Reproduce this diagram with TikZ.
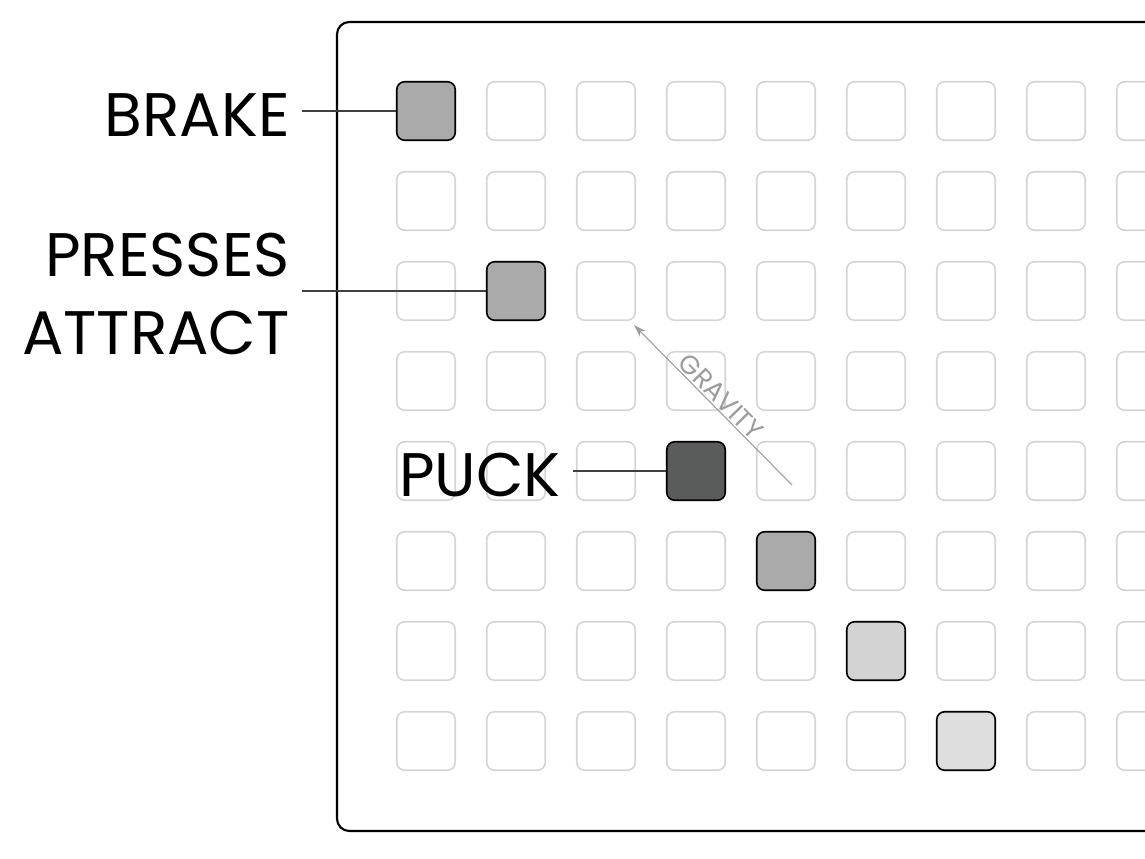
\documentclass[tikz,border=0pt]{standalone}
\usepackage{fontspec}
\setmainfont{Poppins}
\usepackage{tikz}
\usetikzlibrary{arrows.meta,positioning}
\definecolor{PadEdge}{HTML}{D4D4D4}
\definecolor{MidGray}{HTML}{A9AAA9}
\definecolor{PuckGray}{HTML}{5A5C5B}
\definecolor{TrailGray}{HTML}{D3D3D3}
\definecolor{FadeGray}{HTML}{DEDEDE}
\definecolor{GravGray}{HTML}{9C9C9C}
\tikzset{
    pad/.style={draw=PadEdge, line width=0.9pt, rounded corners=4.5pt, minimum size=1.17cm, inner sep=0pt},
    lit/.style args={#1}{pad, draw=black, fill=#1},
    callout/.style={font=\fontsize{35}{44}\selectfont, align=right, anchor=east, inner sep=0pt, outer xsep=7pt},
    lead/.style={draw=black!75, line width=0.7pt}
}

\begin{document}
\begin{tikzpicture}[x=0.02cm, y=-0.02cm, >={Stealth[length=2.5mm, width=1.6mm]}]
\useasboundingbox (0,0) rectangle (1145,858);
\begin{scope}
\clip (0,0) rectangle (1145,858);
\draw[line width=1.2pt, rounded corners=7pt] (337,22) rectangle (1300,831);
% grid of pads
\foreach \c in {0,...,8}
  \foreach \r in {0,...,7}
    \node[pad] (p-\c-\r) at (426+90*\c, 111+90*\r) {};
\end{scope}

% lit pads
\node[lit=MidGray] (brake) at (p-0-0) {};
\node[lit=MidGray] (presses) at (p-1-2) {};
\node[lit=PuckGray] (puck) at (p-3-4) {};
\node[lit=MidGray] (trail1) at (p-4-5) {};
\node[lit=TrailGray] (trail2) at (p-5-6) {};
\node[lit=FadeGray] (trail3) at (p-6-7) {};

% labels
\node[callout] (brakelbl) at (302,115) {BRAKE};
\node[callout] (presslbl) at (302,294) {PRESSES\\ATTRACT};
\node[callout] (pucklbl) at (573,475) {PUCK};
\draw[lead] (brakelbl.east |- brake.west) -- (brake.west);
\draw[lead] (presslbl.east |- presses.west) -- (presses.west);
\draw[lead] (pucklbl.east |- puck.west) -- (puck.west);

% gravity
\coordinate (gtop) at (634,325);
\coordinate (gbot) at (792,485);
\draw[GravGray, line width=0.6pt, <-] (gtop) -- node[sloped, above, inner sep=1pt, font=\fontsize{15}{15}\selectfont] {GRAVITY} (gbot);
\end{tikzpicture}
\end{document}
